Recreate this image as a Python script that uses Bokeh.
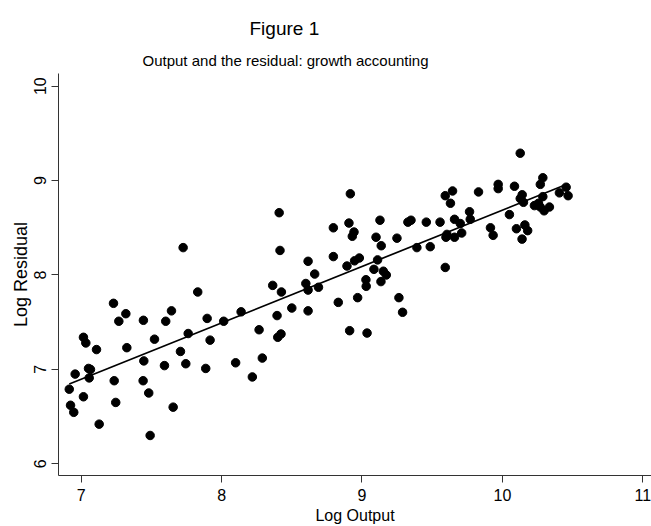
import numpy as np
from bokeh.plotting import figure
from bokeh.models import FixedTicker, Title, ColumnDataSource
from bokeh.embed import file_html
from bokeh.resources import INLINE

# ---- data ----
log_output = [
    6.915, 6.924, 6.947, 6.957, 7.016, 7.016, 7.033, 7.052, 7.066, 7.057,
    7.109, 7.128, 7.230, 7.235, 7.246, 7.268, 7.318, 7.325, 7.443, 7.446,
    7.441, 7.481, 7.491, 7.522, 7.593, 7.602, 7.643, 7.655, 7.707, 7.745,
    7.762, 7.830, 7.726,
    7.897, 7.918, 7.887, 8.015, 8.100, 8.139, 8.219, 8.267, 8.290, 8.364,
    8.416, 8.426, 8.395, 8.400, 8.423, 8.500, 8.616, 8.663, 8.600, 8.616,
    8.616, 8.690, 8.410,
    8.917, 8.907, 8.943, 8.931, 8.796, 9.128, 9.100, 9.137, 9.249, 9.327,
    9.349, 9.458, 9.391, 9.486, 8.796, 8.893, 8.947, 8.981, 9.111, 9.085,
    9.152, 9.173, 9.135, 9.028, 9.030, 8.969, 8.831, 8.912, 9.036, 9.263,
    9.289,
    10.127, 9.593, 9.645, 9.630, 9.830, 9.970, 9.970, 10.086, 10.141, 10.127,
    10.150, 9.556, 9.659, 9.700, 9.766, 9.771, 10.050, 9.915, 9.934, 10.100,
    10.160, 10.180, 10.140, 9.605, 9.598, 9.659, 9.710, 9.593,
    10.288, 10.270, 10.406, 10.454, 10.468, 10.228, 10.257, 10.288, 10.270,
    10.297, 10.335,
]
log_residual = [
    6.79, 6.62, 6.545, 6.95, 6.71, 7.34, 7.28, 7.01, 7.00, 6.91,
    7.21, 6.42, 7.70, 6.88, 6.65, 7.51, 7.59, 7.23, 7.52, 7.09,
    6.88, 6.75, 6.30, 7.32, 7.04, 7.51, 7.62, 6.60, 7.19, 7.06,
    7.38, 7.82, 8.29,
    7.54, 7.31, 7.01, 7.51, 7.07, 7.61, 6.92, 7.42, 7.12, 7.89,
    8.26, 7.82, 7.57, 7.34, 7.375, 7.65, 8.145, 8.01, 7.91, 7.84,
    7.62, 7.87, 8.66,
    8.86, 8.55, 8.455, 8.41, 8.50, 8.58, 8.40, 8.31, 8.39, 8.56,
    8.58, 8.56, 8.29, 8.30, 8.195, 8.095, 8.15, 8.18, 8.16, 8.06,
    8.04, 8.00, 7.93, 7.95, 7.88, 7.76, 7.71, 7.41, 7.385, 7.76,
    7.605,
    9.29, 8.84, 8.89, 8.76, 8.88, 8.96, 8.915, 8.94, 8.85, 8.81,
    8.77, 8.56, 8.59, 8.545, 8.67, 8.59, 8.64, 8.50, 8.42, 8.49,
    8.53, 8.47, 8.38, 8.43, 8.40, 8.40, 8.445, 8.08,
    9.03, 8.96, 8.87, 8.93, 8.84, 8.735, 8.76, 8.83, 8.72,
    8.68, 8.72,
]
x_ticks = [7, 8, 9, 10, 11]
y_ticks = [6, 7, 8, 9, 10]
title_text = "Figure 1"
subtitle_text = "Output and the residual: growth accounting"
x_label = "Log Output"
y_label = "Log Residual"

# fitted line (OLS of the points)
xs = np.array(log_output)
ys = np.array(log_residual)
slope, intercept = np.polyfit(xs, ys, 1)
fit_x = [xs.min(), xs.max()]
fit_y = [intercept + slope * v for v in fit_x]

FONT = "Liberation Sans"

p = figure(
    width=651, height=526,
    x_range=(6.8383, 11.062), y_range=(5.876, 10.1345),
    output_backend="svg", toolbar_location=None,
    min_border_left=58, min_border_right=0,
    min_border_top=73, min_border_bottom=51,
)
p.background_fill_color = "white"
p.border_fill_color = "white"
p.outline_line_color = None
p.xgrid.visible = False
p.ygrid.visible = False

# titles (subtitle added first -> closest to the plot)
p.add_layout(Title(text=subtitle_text, align="left", offset=84,
                   text_font=FONT, text_font_size="15px",
                   text_font_style="normal", text_color="black",
                   standoff=10), "above")
p.add_layout(Title(text=title_text, align="left", offset=191,
                   text_font=FONT, text_font_size="19px",
                   text_font_style="normal", text_color="black",
                   standoff=11), "above")

src = ColumnDataSource(dict(x=log_output, y=log_residual))
p.line(fit_x, fit_y, line_color="black", line_width=1.7)
p.scatter("x", "y", source=src, size=8.5, fill_color="black",
          line_color="black", marker="circle")

for ax in (p.xaxis[0], p.yaxis[0]):
    ax.axis_line_color = "#333333"
    ax.axis_line_width = 1
    ax.major_tick_line_color = "#333333"
    ax.major_tick_out = 7
    ax.major_tick_in = 0
    ax.minor_tick_line_color = None
    ax.major_label_text_font = FONT
    ax.major_label_text_font_size = "16px"
    ax.major_label_text_color = "black"
    ax.axis_label_text_font = FONT
    ax.axis_label_text_font_size = "16px"
    ax.axis_label_text_font_style = "normal"
    ax.axis_label_text_color = "black"

p.xaxis[0].ticker = FixedTicker(ticks=x_ticks)
p.yaxis[0].ticker = FixedTicker(ticks=y_ticks)
p.xaxis[0].axis_label = x_label
p.yaxis[0].axis_label = y_label
p.yaxis[0].axis_label_text_font_size = "18px"
p.xaxis[0].major_label_standoff = 6
p.xaxis[0].axis_label_standoff = 3
p.yaxis[0].major_label_orientation = "parallel"
p.yaxis[0].major_label_standoff = 5
p.yaxis[0].axis_label_standoff = 1

open("out.html", "w").write(file_html(p, INLINE))
